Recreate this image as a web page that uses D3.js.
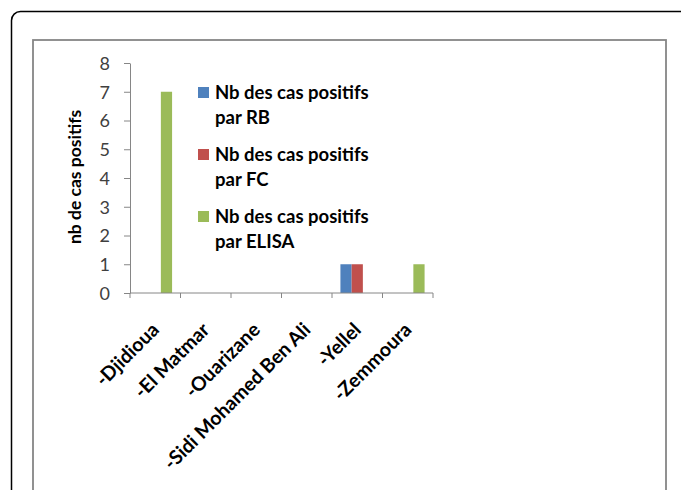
<!DOCTYPE html>
<meta charset="utf-8">
<style>
body { margin: 0; background: #fff; }
svg { display: block; }
.axis text { font: 18px Lato, "Open Sans", sans-serif; fill: #404040; }
.axis path, .axis line { stroke: #868686; }
.xlab { font: bold 19.5px Lato, "Open Sans", sans-serif; fill: #000; }
.legend text { font: bold 18.5px Lato, "Open Sans", sans-serif; fill: #000; }
</style>
<svg width="681" height="490"></svg>
<script src="https://d3js.org/d3.v7.min.js"></script>
<script>
var categories = ["-Djidioua", "-El Matmar", "-Ouarizane", "-Sidi Mohamed Ben Ali", "-Yellel", "-Zemmoura"];
var seriesNames = [["Nb des cas positifs", "par RB"], ["Nb des cas positifs", "par FC"], ["Nb des cas positifs", "par ELISA"]];
var rb = [0, 0, 0, 0, 1, 0];
var fc = [0, 0, 0, 0, 1, 0];
var elisa = [7, 0, 0, 0, 0, 1];
var colors = ["#4F81BD", "#C0504D", "#9BBB59"];
var yTicks = [0, 1, 2, 3, 4, 5, 6, 7, 8];

var svg = d3.select("svg");
// outer frame and chart area border
svg.append("rect").attr("x", 11.5).attr("y", 11.5).attr("width", 700).attr("height", 520)
    .attr("rx", 9).attr("fill", "none").attr("stroke", "#000").attr("stroke-width", 1.5);
svg.append("rect").attr("x", 33).attr("y", 40).attr("width", 633).attr("height", 480)
    .attr("fill", "none").attr("stroke", "#868686").attr("stroke-width", 1.8);

var margin = {left: 130, top: 63, right: 433, bottom: 293};
var x = d3.scaleBand().domain(categories).range([margin.left, margin.right]);
var y = d3.scaleLinear().domain([0, 8]).range([margin.bottom, margin.top]);
var data = [rb, fc, elisa];
var bw = x.bandwidth() / 4.5;

var g = svg.append("g");
data.forEach(function(vals, s) {
  g.selectAll(".s" + s).data(vals).enter().append("rect")
    .attr("x", function(d, i) { return x(categories[i]) + bw * 0.75 + s * bw; })
    .attr("y", function(d) { return y(d); })
    .attr("width", bw)
    .attr("height", function(d) { return y(0) - y(d); })
    .attr("fill", colors[s]);
});

var yAxis = svg.append("g").attr("class", "axis")
  .attr("transform", "translate(" + margin.left + ",0)")
  .call(d3.axisLeft(y).tickValues(yTicks).tickSize(6).tickPadding(14).tickSizeOuter(0));
yAxis.selectAll("text").attr("dy", "0.36em");

var xAxis = svg.append("g").attr("class", "axis")
  .attr("transform", "translate(0," + y(0) + ")");
xAxis.append("line").attr("x1", margin.left).attr("x2", margin.right).attr("stroke", "#868686");
var edges = categories.map(function(c) { return x(c); }).concat([margin.right]);
xAxis.selectAll(".tk").data(edges).enter().append("line")
  .attr("x1", function(d) { return d; }).attr("x2", function(d) { return d; })
  .attr("y1", 0).attr("y2", 5).attr("stroke", "#868686");

svg.selectAll(".xlab").data(categories).enter().append("text")
  .attr("class", "xlab")
  .attr("text-anchor", "end")
  .attr("transform", function(d) {
    var cx = x(d) + x.bandwidth() / 2 + 5;
    return "translate(" + cx + "," + (y(0) + 38) + ") rotate(-45)";
  })
  .text(function(d) { return d; });

svg.append("text")
  .attr("transform", "translate(81,177) rotate(-90)")
  .attr("text-anchor", "middle")
  .style("font", "bold 17.5px Lato, 'Open Sans', sans-serif")
  .text("nb de cas positifs");

var legend = svg.append("g").attr("class", "legend");
var lg = legend.selectAll("g").data(seriesNames).enter().append("g")
  .attr("transform", function(d, i) { return "translate(198," + (87 + i * 62) + ")"; });
lg.append("rect").attr("width", 11).attr("height", 11).attr("fill", function(d, i) { return colors[i]; });
lg.append("text").attr("x", 17).attr("y", 11.5).text(function(d) { return d[0]; });
lg.append("text").attr("x", 17).attr("y", 36.5).text(function(d) { return d[1]; });
</script>
